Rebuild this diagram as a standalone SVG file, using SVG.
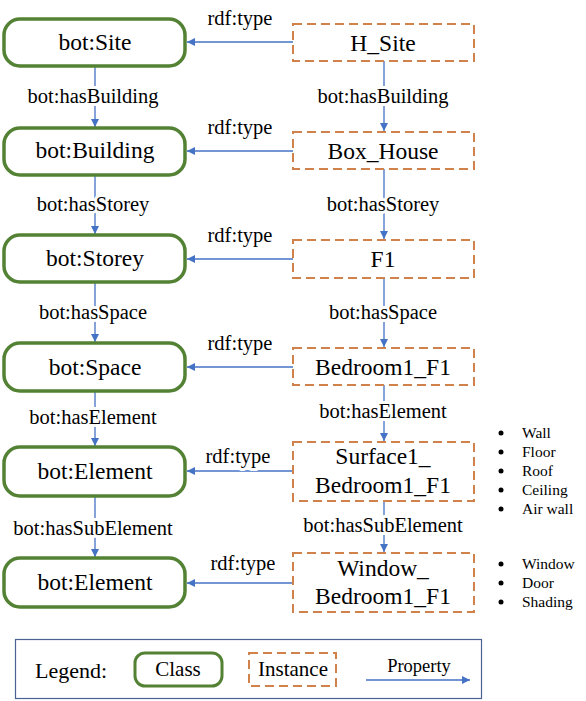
<svg xmlns="http://www.w3.org/2000/svg" width="586" height="701" viewBox="0 0 586 701">
<style>
text{font-family:"Liberation Serif","Times New Roman",serif;fill:#000;text-anchor:middle}
.cls{fill:#fff;stroke:#548235;stroke-width:3.5}
.ins{fill:#fff;stroke:#D0824A;stroke-width:2;stroke-dasharray:9,5}
.n{font-size:23.5px}
.p{font-size:20.5px;stroke:#fff;stroke-width:6;paint-order:stroke;stroke-linejoin:round}
.c{stroke:#4472C4;stroke-width:1.3;fill:none}
.b{font-size:15.5px;text-anchor:start}
</style>
<defs>
<marker id="ah" viewBox="0 0 10 10" refX="10" refY="5" markerWidth="8" markerHeight="8" markerUnits="userSpaceOnUse" orient="auto">
<path d="M0,0 L10,5 L0,10 z" fill="#4472C4"/>
</marker>
</defs>
<g id="connectors">
<path class="c" d="M95,66 V127" marker-end="url(#ah)"/>
<path class="c" d="M95,175 V234" marker-end="url(#ah)"/>
<path class="c" d="M95,282 V342" marker-end="url(#ah)"/>
<path class="c" d="M95,391 V446" marker-end="url(#ah)"/>
<path class="c" d="M95,496 V557" marker-end="url(#ah)"/>
<path class="c" d="M384,61 V131" marker-end="url(#ah)"/>
<path class="c" d="M384,169 V239" marker-end="url(#ah)"/>
<path class="c" d="M384,278 V347" marker-end="url(#ah)"/>
<path class="c" d="M384,385 V441" marker-end="url(#ah)"/>
<path class="c" d="M384,501 V552" marker-end="url(#ah)"/>
<path class="c" d="M293,42 H187" marker-end="url(#ah)"/>
<path class="c" d="M293,151 H187" marker-end="url(#ah)"/>
<path class="c" d="M293,259 H187" marker-end="url(#ah)"/>
<path class="c" d="M293,367 H187" marker-end="url(#ah)"/>
<path class="c" d="M293,471 H187" marker-end="url(#ah)"/>
<path class="c" d="M293,583 H187" marker-end="url(#ah)"/>
<text class="p" x="93" y="103">bot:hasBuilding</text>
<text class="p" x="93" y="211">bot:hasStorey</text>
<text class="p" x="93" y="319">bot:hasSpace</text>
<text class="p" x="93" y="424">bot:hasElement</text>
<text class="p" x="93" y="535">bot:hasSubElement</text>
<text class="p" x="383" y="103">bot:hasBuilding</text>
<text class="p" x="383" y="211">bot:hasStorey</text>
<text class="p" x="383" y="319">bot:hasSpace</text>
<text class="p" x="383" y="418">bot:hasElement</text>
<text class="p" x="383" y="532">bot:hasSubElement</text>
<text class="p" x="240" y="25">rdf:type</text>
<text class="p" x="240" y="134">rdf:type</text>
<text class="p" x="240" y="242">rdf:type</text>
<text class="p" x="240" y="350">rdf:type</text>
<text class="p" x="238" y="463">rdf:type</text>
<text class="p" x="243" y="570">rdf:type</text>
</g>
<g id="class-site"><rect class="cls" x="4" y="19" width="181" height="47" rx="16"/><text class="n" x="95" y="50">bot:Site</text></g>
<g id="class-building"><rect class="cls" x="4" y="128" width="181" height="47" rx="16"/><text class="n" x="95" y="158">bot:Building</text></g>
<g id="class-storey"><rect class="cls" x="4" y="235" width="181" height="47" rx="16"/><text class="n" x="95" y="266">bot:Storey</text></g>
<g id="class-space"><rect class="cls" x="4" y="343" width="181" height="48" rx="16"/><text class="n" x="95" y="375">bot:Space</text></g>
<g id="class-element"><rect class="cls" x="4" y="447" width="181" height="49" rx="16"/><text class="n" x="95" y="479">bot:Element</text></g>
<g id="class-element2"><rect class="cls" x="4" y="558" width="181" height="49" rx="16"/><text class="n" x="95" y="590">bot:Element</text></g>
<g id="inst-hsite"><rect class="ins" x="293" y="24" width="181" height="37"/><text class="n" x="383" y="51">H_Site</text></g>
<g id="inst-boxhouse"><rect class="ins" x="293" y="132" width="181" height="37"/><text class="n" x="383" y="159">Box_House</text></g>
<g id="inst-f1"><rect class="ins" x="293" y="240" width="181" height="38"/><text class="n" x="383" y="267">F1</text></g>
<g id="inst-bedroom"><rect class="ins" x="293" y="348" width="181" height="37"/><text class="n" x="383" y="375">Bedroom1_F1</text></g>
<g id="inst-surface"><rect class="ins" x="293" y="442" width="181" height="59"/><text class="n" x="383" y="464">Surface1_</text><text class="n" x="383" y="493">Bedroom1_F1</text></g>
<g id="inst-window"><rect class="ins" x="293" y="553" width="181" height="59"/><text class="n" x="383" y="576">Window_</text><text class="n" x="383" y="604">Bedroom1_F1</text></g>
<g id="surface-types">
<circle cx="501" cy="433" r="2.5"/><text class="b" x="522" y="438">Wall</text>
<circle cx="501" cy="452" r="2.5"/><text class="b" x="522" y="457">Floor</text>
<circle cx="501" cy="471" r="2.5"/><text class="b" x="522" y="476">Roof</text>
<circle cx="501" cy="490" r="2.5"/><text class="b" x="522" y="495">Ceiling</text>
<circle cx="501" cy="509" r="2.5"/><text class="b" x="522" y="514">Air wall</text>
</g>
<g id="subelement-types">
<circle cx="501" cy="564" r="2.5"/><text class="b" x="522" y="569">Window</text>
<circle cx="501" cy="583" r="2.5"/><text class="b" x="522" y="588">Door</text>
<circle cx="501" cy="602" r="2.5"/><text class="b" x="522" y="607">Shading</text>
</g>
<g id="legend">
<rect x="15.5" y="639.5" width="466" height="59" fill="#fff" stroke="#4A6294" stroke-width="1.2"/>
<text x="71" y="678" font-size="22">Legend:</text>
<rect class="cls" x="135" y="653" width="87" height="33" rx="10" style="stroke-width:3"/>
<text x="178" y="676" font-size="21">Class</text>
<rect class="ins" x="249" y="653" width="87" height="33"/>
<text x="293" y="676" font-size="21">Instance</text>
<text x="419" y="672" font-size="18.5">Property</text>
<path class="c" d="M366,680 H470" marker-end="url(#ah)"/>
</g>
</svg>
